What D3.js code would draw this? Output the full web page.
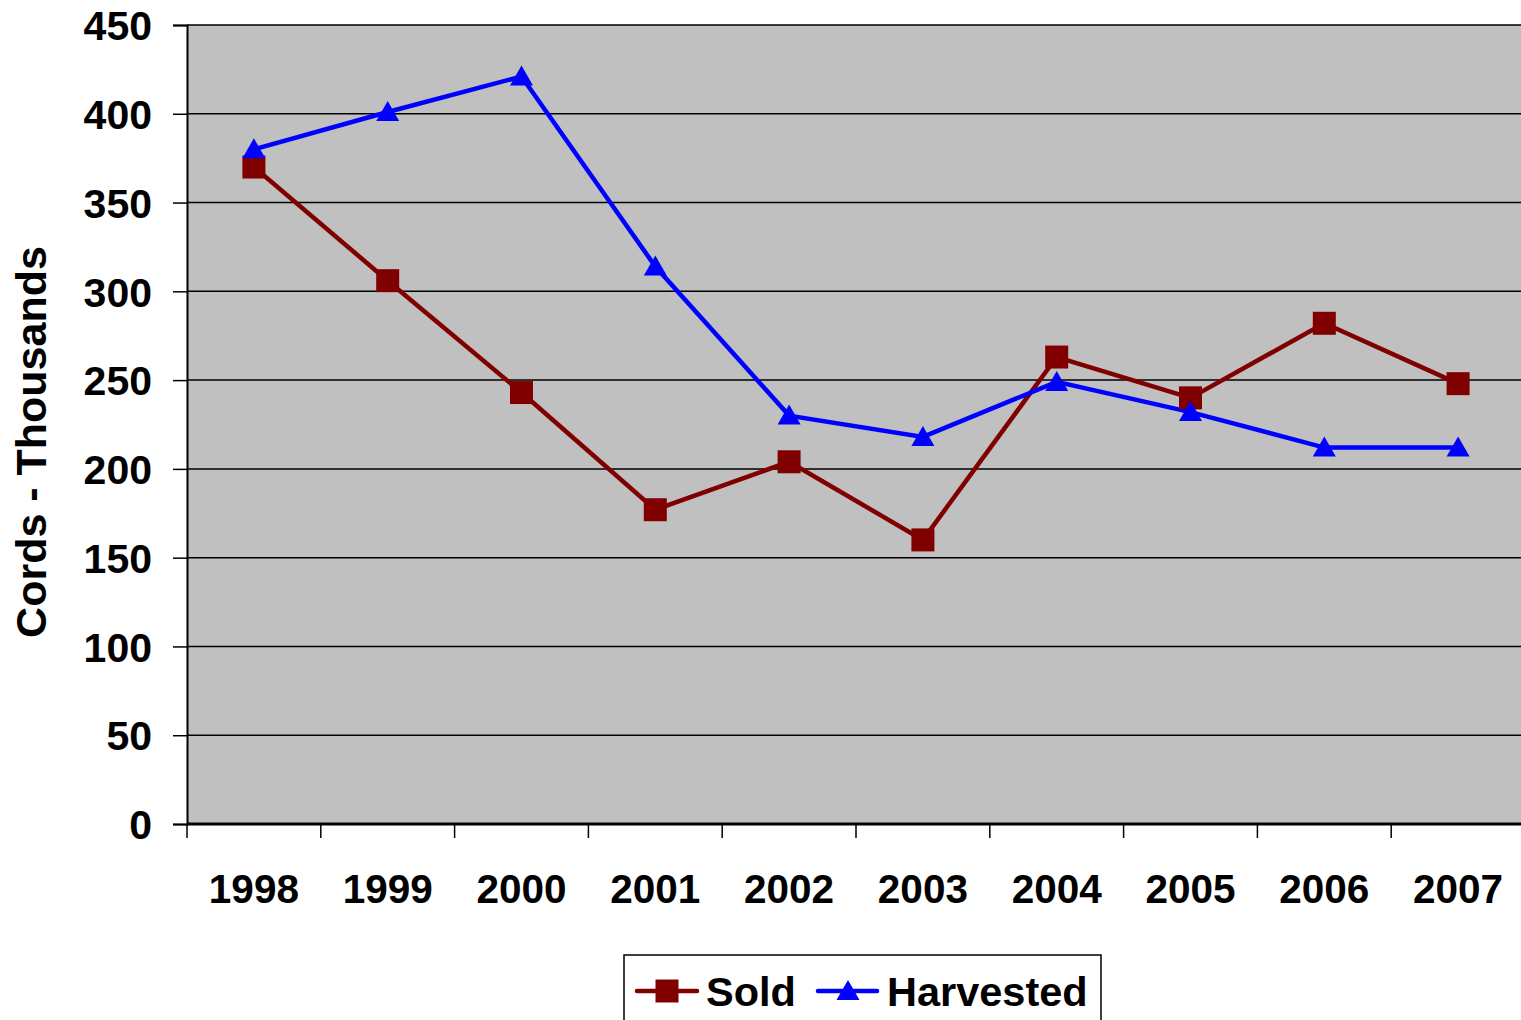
<!DOCTYPE html>
<html>
<head>
<meta charset="utf-8">
<script src="https://cdn.jsdelivr.net/npm/d3@7"></script>
<style>
  body { margin: 0; background: #fff; }
  svg { display: block; }
  text { font-family: Arial, "Liberation Sans", sans-serif; font-weight: bold; fill: #000; }
</style>
</head>
<body>
<div id="chart"></div>
<script>
// data
var years = ['1998', '1999', '2000', '2001', '2002', '2003', '2004', '2005', '2006', '2007'];
var sold = [370, 306, 243, 177, 204, 160, 263, 240, 282, 248];
var harvested = [380, 401, 421, 314, 230, 218, 249, 232, 212, 212];
var yTicks = [0, 50, 100, 150, 200, 250, 300, 350, 400, 450];

var W = 1521, H = 1020;
// plot area runs a little past the right edge of the picture
var plotL = 187, plotR = 1525, plotT = 25, plotB = 824;

var svg = d3.select('#chart').append('svg')
  .attr('width', W)
  .attr('height', H);

var x = d3.scaleBand().domain(years).range([plotL, plotR]);
var y = d3.scaleLinear().domain([0, 450]).range([plotB, plotT]);

// plot background
svg.append('rect')
  .attr('x', plotL).attr('y', plotT)
  .attr('width', plotR - plotL).attr('height', plotB - plotT)
  .attr('fill', '#c0c0c0');

// gridlines
svg.selectAll('line.grid')
  .data(yTicks.filter(function (d) { return d > 0; }))
  .enter().append('line')
  .attr('class', 'grid')
  .attr('x1', plotL).attr('x2', plotR)
  .attr('y1', function (d) { return y(d); })
  .attr('y2', function (d) { return y(d); })
  .attr('stroke', '#000')
  .attr('stroke-width', 1.5);

// y axis
var yAxis = d3.axisLeft(y).tickValues(yTicks).tickSize(14).tickPadding(21);
var gy = svg.append('g')
  .attr('transform', 'translate(' + plotL + ',0)')
  .call(yAxis);
gy.select('.domain').attr('stroke', '#000').attr('stroke-width', 2);
gy.selectAll('.tick line').attr('stroke', '#000').attr('stroke-width', 1.5);
gy.selectAll('.tick text')
  .attr('font-size', 41)
  .attr('font-family', 'Arial, "Liberation Sans", sans-serif')
  .attr('font-weight', 'bold')
  .attr('fill', '#000')
  .attr('dy', '0.36em');

// x axis (ticks between categories)
svg.append('line')
  .attr('x1', plotL).attr('x2', plotR)
  .attr('y1', plotB).attr('y2', plotB)
  .attr('stroke', '#000').attr('stroke-width', 3);

var bounds = years.map(function (d) { return x(d); });
svg.selectAll('line.xtick')
  .data(bounds)
  .enter().append('line')
  .attr('class', 'xtick')
  .attr('x1', function (d) { return d; })
  .attr('x2', function (d) { return d; })
  .attr('y1', plotB).attr('y2', plotB + 14)
  .attr('stroke', '#000').attr('stroke-width', 1.5);

svg.selectAll('text.xlab')
  .data(years)
  .enter().append('text')
  .attr('class', 'xlab')
  .attr('x', function (d) { return x(d) + x.bandwidth() / 2; })
  .attr('y', 903)
  .attr('text-anchor', 'middle')
  .attr('font-size', 40.5)
  .text(function (d) { return d; });

// y title
svg.append('text')
  .attr('transform', 'translate(46,442) rotate(-90)')
  .attr('text-anchor', 'middle')
  .attr('font-size', 43)
  .text('Cords - Thousands');

var cx = function (d, i) { return x(years[i]) + x.bandwidth() / 2; };

var line = d3.line()
  .x(function (d, i) { return cx(d, i); })
  .y(function (d) { return y(d); });

svg.append('path')
  .datum(sold)
  .attr('d', line)
  .attr('fill', 'none')
  .attr('stroke', '#800000')
  .attr('stroke-width', 4.5);

svg.append('path')
  .datum(harvested)
  .attr('d', line)
  .attr('fill', 'none')
  .attr('stroke', '#0000ff')
  .attr('stroke-width', 4.5);

var square = d3.symbol().type(d3.symbolSquare).size(23 * 23);
var triangle = 'M0,-11L11.5,9L-11.5,9Z';

svg.selectAll('path.sold')
  .data(sold)
  .enter().append('path')
  .attr('class', 'sold')
  .attr('d', square)
  .attr('transform', function (d, i) { return 'translate(' + cx(d, i) + ',' + y(d) + ')'; })
  .attr('fill', '#800000');

svg.selectAll('path.harv')
  .data(harvested)
  .enter().append('path')
  .attr('class', 'harv')
  .attr('d', triangle)
  .attr('transform', function (d, i) { return 'translate(' + cx(d, i) + ',' + y(d) + ')'; })
  .attr('fill', '#0000ff');

// legend
var lg = svg.append('g');
lg.append('rect')
  .attr('x', 624).attr('y', 955)
  .attr('width', 477).attr('height', 80)
  .attr('fill', '#fff')
  .attr('stroke', '#000')
  .attr('stroke-width', 1.5);

lg.append('line')
  .attr('x1', 637).attr('x2', 697).attr('y1', 991).attr('y2', 991)
  .attr('stroke', '#800000').attr('stroke-width', 4.5).attr('stroke-linecap', 'round');
lg.append('path')
  .attr('d', square)
  .attr('transform', 'translate(667,991)')
  .attr('fill', '#800000');
lg.append('text')
  .attr('x', 706).attr('y', 1006)
  .attr('font-size', 41.5)
  .text('Sold');

lg.append('line')
  .attr('x1', 818).attr('x2', 877).attr('y1', 991).attr('y2', 991)
  .attr('stroke', '#0000ff').attr('stroke-width', 4.5).attr('stroke-linecap', 'round');
lg.append('path')
  .attr('d', triangle)
  .attr('transform', 'translate(848,991)')
  .attr('fill', '#0000ff');
lg.append('text')
  .attr('x', 887).attr('y', 1006)
  .attr('font-size', 41.5)
  .text('Harvested');
</script>
</body>
</html>
